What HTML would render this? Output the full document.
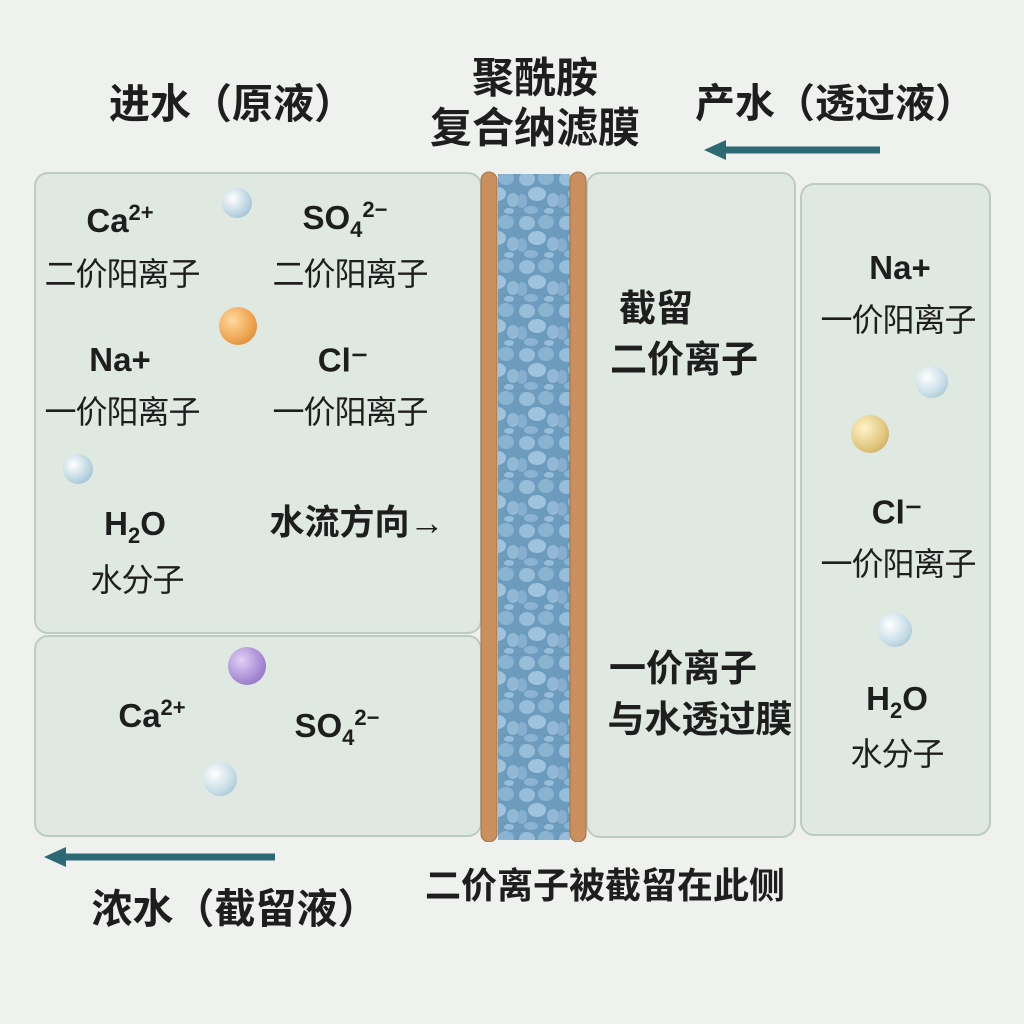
<!DOCTYPE html>
<html><head><meta charset="utf-8"><style>
body{margin:0;width:1024px;height:1024px;background:#eff1ee;position:relative;overflow:hidden;font-family:"Liberation Sans","Noto Sans CJK SC",sans-serif;color:#1e1e1e}
.p{position:absolute;background:#dfe8e1;border:2px solid #bccbc3;border-radius:14px;box-sizing:border-box}
.t{position:absolute;transform:translate(-50%,-50%);white-space:nowrap;font-weight:bold}
.c{font-size:33px;font-weight:bold}
.z{font-size:32px;font-weight:normal;letter-spacing:-1px}
.s{position:absolute;border-radius:50%;transform:translate(-50%,-50%)}
sup,sub{font-size:22px}
</style></head><body>
<div class="p" style="left:34px;top:172px;width:448px;height:462px"></div>
<div class="p" style="left:34px;top:635px;width:448px;height:202px"></div>
<div class="p" style="left:586px;top:172px;width:210px;height:666px"></div>
<div class="p" style="left:800px;top:183px;width:191px;height:653px"></div>
<svg style="position:absolute;left:478px;top:170px" width="112" height="672">
<defs><pattern id="pt" width="40" height="44" patternUnits="userSpaceOnUse">
<rect width="40" height="44" fill="#6d9bbd"/>
<ellipse cx="9" cy="9" rx="8" ry="7" fill="#98bdd9"/><ellipse cx="28" cy="8" rx="8" ry="7" fill="#8ab3d2"/>
<ellipse cx="19" cy="24" rx="9" ry="7" fill="#9fc3dc"/><ellipse cx="4" cy="31" rx="5" ry="7" fill="#86aecf"/>
<ellipse cx="35" cy="30" rx="6" ry="7" fill="#92b8d6"/><ellipse cx="13" cy="40" rx="7" ry="4" fill="#8cb3d2"/>
<ellipse cx="31" cy="41" rx="5" ry="3" fill="#98bdd9"/>
</pattern></defs>
<rect x="20" y="4" width="72" height="666" fill="url(#pt)"/>
<rect x="3" y="2" width="16" height="670" rx="8" fill="#c98f5e" stroke="#a8703f"/>
<rect x="92" y="2" width="16" height="670" rx="8" fill="#c98f5e" stroke="#a8703f"/>
</svg>
<svg style="position:absolute;left:0;top:0" width="1024" height="1024">
<line x1="880" y1="150" x2="722" y2="150" stroke="#2d6875" stroke-width="7"/>
<polygon points="704,150 726,140 726,160" fill="#2d6875"/>
<line x1="275" y1="857" x2="62" y2="857" stroke="#2d6875" stroke-width="7"/>
<polygon points="44,857 66,847 66,867" fill="#2d6875"/>
</svg>
<div class="t" style="left:232px;top:100px;font-size:41px">进水（原液）</div>
<div class="t" style="left:535px;top:75px;font-size:42px">聚酰胺</div>
<div class="t" style="left:535px;top:125px;font-size:42px">复合纳滤膜</div>
<div class="t" style="left:835px;top:100px;font-size:40px">产水（透过液）</div>
<div class="t" style="left:235px;top:905px;font-size:41px">浓水（截留液）</div>
<div class="t" style="left:605px;top:883px;font-size:36px">二价离子被截留在此侧</div>

<div class="t c" style="left:120px;top:220px">Ca<sup>2+</sup></div>
<div class="t z" style="left:122px;top:272px">二价阳离子</div>
<div class="t c" style="left:345px;top:220px">SO<sub>4</sub><sup>2−</sup></div>
<div class="t z" style="left:350px;top:272px">二价阳离子</div>
<div class="t c" style="left:120px;top:360px">Na+</div>
<div class="t z" style="left:122px;top:410px">一价阳离子</div>
<div class="t c" style="left:343px;top:360px">Cl⁻</div>
<div class="t z" style="left:350px;top:410px">一价阳离子</div>
<div class="t c" style="left:135px;top:527px">H<sub>2</sub>O</div>
<div class="t z" style="left:137px;top:578px">水分子</div>
<div class="t" style="left:357px;top:520px;font-size:35px">水流方向→</div>
<div class="t c" style="left:152px;top:715px">Ca<sup>2+</sup></div>
<div class="t c" style="left:337px;top:728px">SO<sub>4</sub><sup>2−</sup></div>

<div class="t" style="left:656px;top:305px;font-size:37px">截留</div>
<div class="t" style="left:684px;top:356px;font-size:37px">二价离子</div>
<div class="t" style="left:683px;top:665px;font-size:37px">一价离子</div>
<div class="t" style="left:700px;top:716px;font-size:37px">与水透过膜</div>

<div class="t c" style="left:900px;top:268px">Na+</div>
<div class="t z" style="left:898px;top:318px">一价阳离子</div>
<div class="t c" style="left:897px;top:512px">Cl⁻</div>
<div class="t z" style="left:898px;top:562px">一价阳离子</div>
<div class="t c" style="left:897px;top:702px">H<sub>2</sub>O</div>
<div class="t z" style="left:897px;top:752px">水分子</div>

<div class="s" style="left:237px;top:203px;width:30px;height:30px;background:radial-gradient(circle at 35% 35%,#fff,#b9d3e0 60%,#8fb0c2)"></div>
<div class="s" style="left:238px;top:326px;width:38px;height:38px;background:radial-gradient(circle at 35% 35%,#ffd9a0,#eda24c 60%,#c97a30)"></div>
<div class="s" style="left:78px;top:469px;width:30px;height:30px;background:radial-gradient(circle at 35% 35%,#fff,#b9d3e0 60%,#8fb0c2)"></div>
<div class="s" style="left:247px;top:666px;width:38px;height:38px;background:radial-gradient(circle at 35% 35%,#e0d0f5,#a68ad4 60%,#7e66b0)"></div>
<div class="s" style="left:220px;top:779px;width:34px;height:34px;background:radial-gradient(circle at 35% 35%,#fff,#c4dbe6 60%,#93b3c4)"></div>
<div class="s" style="left:932px;top:382px;width:32px;height:32px;background:radial-gradient(circle at 35% 35%,#fff,#c4dbe6 60%,#93b3c4)"></div>
<div class="s" style="left:870px;top:434px;width:38px;height:38px;background:radial-gradient(circle at 35% 35%,#fff4cc,#e0c57a 60%,#b89a50)"></div>
<div class="s" style="left:895px;top:630px;width:34px;height:34px;background:radial-gradient(circle at 35% 35%,#fff,#c4dbe6 60%,#93b3c4)"></div>
</body></html>
